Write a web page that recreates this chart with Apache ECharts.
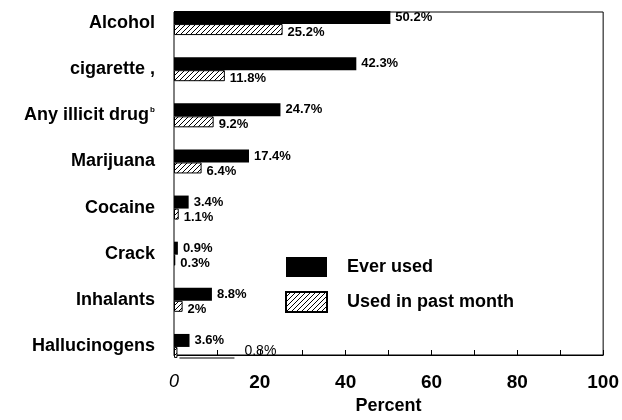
<!DOCTYPE html>
<html><head><meta charset="utf-8">
<script src="https://cdn.jsdelivr.net/npm/echarts@6/dist/echarts.min.js"></script>
<style>html,body{margin:0;padding:0;background:#fff}#c{width:622px;height:420px}</style>
</head><body><div id="c"></div>
<script>
const categories = ['Alcohol', 'cigarette ,', 'Any illicit drug', 'Marijuana', 'Cocaine', 'Crack', 'Inhalants', 'Hallucinogens'];
const everUsed = [50.2, 42.3, 24.7, 17.4, 3.4, 0.9, 8.8, 3.6];
const pastMonth = [25.2, 11.8, 9.2, 6.4, 1.1, 0.3, 2, 0.8];
const xTicks = [0, 20, 40, 60, 80, 100];
const seriesNames = ['Ever used', 'Used in past month'];

const FONT = '"Liberation Sans", Arial, sans-serif';
// hatch pattern
const pc = document.createElement('canvas');
pc.width = 5; pc.height = 5;
const g = pc.getContext('2d');
g.fillStyle = '#fff'; g.fillRect(0,0,5,5);
g.strokeStyle = '#000'; g.lineWidth = 1;
g.beginPath(); g.moveTo(0,5); g.lineTo(5,0); g.moveTo(-1,1); g.lineTo(1,-1); g.moveTo(4,6); g.lineTo(6,4); g.stroke();

const chart = echarts.init(document.getElementById('c'), null, {renderer:'canvas'});
const pastData = pastMonth.map((v, i) => {
  if (categories[i] === 'Hallucinogens') {
    return {value: v, label: {formatter: '{ln|}{t|' + v + '%}', offset: [-3, -1]}};
  }
  return v;
});
chart.setOption({
  animation: false,
  textStyle: {fontFamily: FONT},
  grid: [
    {left: 174, right: 17, top: -4, bottom: 51},
    {left: 174, right: 17, top: 12, bottom: 64, show: true, borderColor: '#000', borderWidth: 1}
  ],
  xAxis: [
    {gridIndex: 0, type: 'value', min: 0, max: 100, show: false},
    {gridIndex: 1, type: 'value', min: 0, max: 100, interval: 10,
     axisLine: {show: true, lineStyle: {color: '#000'}},
     axisTick: {show: true, inside: true, length: 5, lineStyle: {color: '#000'}},
     splitLine: {show: false},
     axisLabel: {margin: 18, color: '#000', fontSize: 19, fontWeight: 'bold', fontFamily: FONT,
       formatter: v => xTicks.indexOf(v) < 0 ? '' : (v === 0 ? '{i|0}' : String(v)),
       rich: {i: {fontStyle: 'italic', fontWeight: 'normal', fontSize: 18, color: '#000', fontFamily: FONT}}},
     name: 'Percent', nameLocation: 'middle', nameGap: 42,
     nameTextStyle: {color: '#000', fontSize: 18, fontWeight: 'bold', fontFamily: FONT}}
  ],
  yAxis: [
    {gridIndex: 0, type: 'category', data: categories, inverse: true,
     axisLine: {show: false}, axisTick: {show: false},
     axisLabel: {margin: 19, color: '#000', fontSize: 18, fontWeight: 'bold', fontFamily: FONT,
       formatter: v => v === 'Any illicit drug' ? v + '{s|b}' : v,
       rich: {s: {fontSize: 8, verticalAlign: 'top', padding: [0,0,12,1], color: '#000'}}}},
    {gridIndex: 1, type: 'value', show: false}
  ],
  legend: {
    orient: 'vertical', left: 285, top: 257, itemWidth: 41, itemHeight: 20, itemGap: 14,
    padding: 0, data: seriesNames.map(n => ({name: n, icon: 'rect'})),
    textStyle: {color: '#000', fontSize: 18, fontWeight: 'bold', fontFamily: FONT, padding: [0,0,0,15]}
  },
  series: [
    {name: seriesNames[0], type: 'bar', xAxisIndex: 0, yAxisIndex: 0, data: everUsed,
     barWidth: 13, barGap: '0%', itemStyle: {color: '#000'},
     label: {show: true, position: 'right', distance: 5, color: '#000', fontSize: 13, fontWeight: 'bold',
       formatter: p => p.value + '%'}},
    {name: seriesNames[1], type: 'bar', xAxisIndex: 0, yAxisIndex: 0, data: pastData,
     barWidth: 11, barGap: '0%', itemStyle: {color: {image: pc, repeat: 'repeat'}, borderColor: '#000', borderWidth: 1},
     label: {show: true, position: 'right', distance: 5, offset: [0, 3], color: '#000', fontSize: 13, fontWeight: 'bold',
       formatter: p => p.value + '%',
       rich: {ln: {width: 55, height: 1, backgroundColor: '#000', verticalAlign: 'bottom'},
              t: {fontSize: 14, fontWeight: 'normal', color: '#000', padding: [0,0,0,10]}}}}
  ]
});
</script></body></html>
